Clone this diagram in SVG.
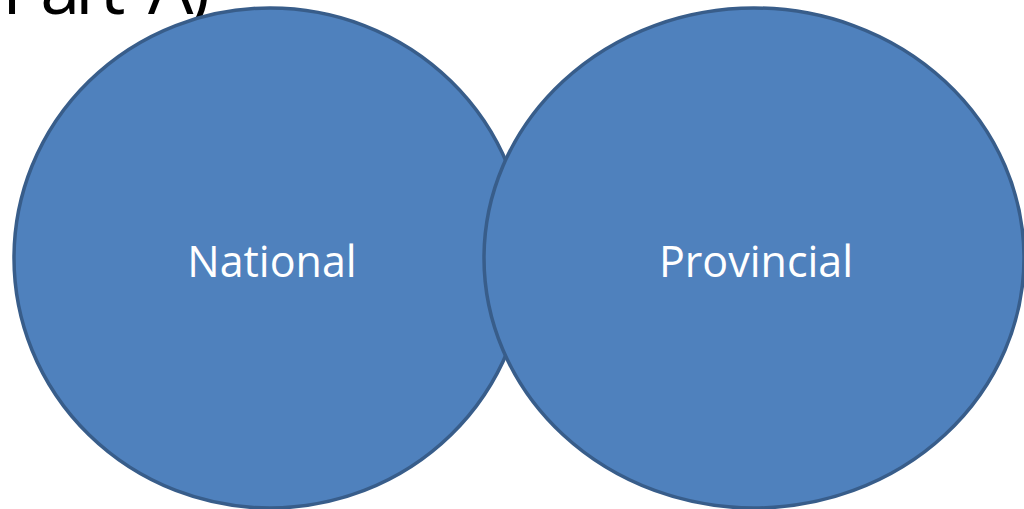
<svg xmlns="http://www.w3.org/2000/svg" width="1024" height="509" viewBox="0 0 1024 509">
  <style>
    .title { font-family: "Open Sans", "Liberation Sans", sans-serif; font-size: 72px; letter-spacing: -5px; word-spacing: 14px; fill: #000000; }
    .bubble { fill: #4f81bd; stroke: #385d8a; stroke-width: 3.5; }
    .label { font-family: "Open Sans", "Liberation Sans", sans-serif; font-size: 43px; fill: #ffffff; text-anchor: middle; }
  </style>
  <rect width="1024" height="509" fill="#ffffff"/>
  <text class="title" x="2" y="14">Part A)</text>
  <g id="national">
    <ellipse class="bubble" cx="270" cy="258" rx="256" ry="250"/>
    <text class="label" x="272" y="277">National</text>
  </g>
  <g id="provincial">
    <ellipse class="bubble" cx="754" cy="258" rx="270" ry="250"/>
    <text class="label" x="756" y="277">Provincial</text>
  </g>
</svg>
